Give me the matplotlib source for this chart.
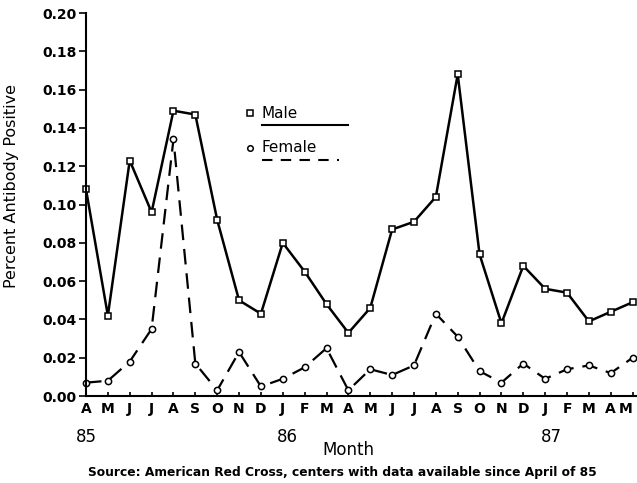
import numpy as np
import matplotlib.pyplot as plt

# miesiace od kwietnia 85 do maja 87
months = ["A", "M", "J", "J", "A", "S", "O", "N", "D", "J", "F", "M", "A",
          "M", "J", "J", "A", "S", "O", "N", "D", "J", "F", "M", "A", "M"]
years = ["85", "86", "87"]
year_pos = [0, 9.2, 21.3]

male = [0.108, 0.042, 0.123, 0.096, 0.149, 0.147, 0.092, 0.050, 0.043,
        0.080, 0.065, 0.048, 0.033, 0.046, 0.087, 0.091, 0.104, 0.168,
        0.074, 0.038, 0.068, 0.056, 0.054, 0.039, 0.044, 0.049]
female = [0.007, 0.008, 0.018, 0.035, 0.134, 0.017, 0.003, 0.023, 0.005,
          0.009, 0.015, 0.025, 0.003, 0.014, 0.011, 0.016, 0.043, 0.031,
          0.013, 0.007, 0.017, 0.009, 0.014, 0.016, 0.012, 0.020]

x = np.arange(len(months))

fig = plt.figure(figsize=(6.37, 4.83), dpi=100)
ax = fig.add_axes([0.135, 0.180, 0.865, 0.793])

ax.plot(x, male, "k-", lw=1.8, marker="s", ms=4, mfc="white", mew=1.1,
        clip_on=False)
ax.plot(x, female, "k", ls=(0, (7, 4)), lw=1.6, marker="o", ms=4.5,
        mfc="white", mew=1.1, clip_on=False)

ax.set_xlim(0, 25.2)
ax.set_ylim(0, 0.20)
yt = np.arange(0, 0.201, 0.02)
ax.set_yticks(yt)
ax.set_yticklabels([f"{v:.2f}" for v in yt], fontsize=10, fontweight="bold")
ax.set_xticks(x)
ax.set_xticklabels(months, fontsize=10, fontweight="bold")
# ostatnia etykieta wychodzi poza obrazek - dosuwamy do prawej
ax.get_xticklabels()[-1].set_horizontalalignment("right")
ax.get_xticklabels()[-1].set_x(x[-1] + 0.25)
ax.tick_params(axis="y", direction="out", length=5, width=1.2, pad=2)
ax.tick_params(axis="x", direction="in", length=3, width=1.2, pad=4)
for s in ["top", "right"]:
    ax.spines[s].set_visible(False)
for s in ["left", "bottom"]:
    ax.spines[s].set_linewidth(1.5)

ax.set_ylabel("Percent Antibody Positive", fontsize=11.5)
ax.yaxis.set_label_coords(-0.122, 0.548)

# lata pod miesiacami
for p, yr in zip(year_pos, years):
    ax.text(p, -0.0214, yr, ha="center", va="center", fontsize=12)
ax.text(12, -0.028, "Month", ha="center", va="center", fontsize=12)
fig.text(0.538, 0.021, "Source: American Red Cross, centers with data available since April of 85",
         ha="center", va="center", fontsize=8.8, fontweight="bold")

# legenda w stylu oryginalu
ax.plot([0.298], [0.739], "ks", ms=4, mfc="white", mew=1.1, transform=ax.transAxes)
ax.text(0.319, 0.739, "Male", fontsize=11, va="center", transform=ax.transAxes)
ax.plot([0.319, 0.475], [0.708, 0.708], "k-", lw=1.5, transform=ax.transAxes)
ax.plot([0.298], [0.648], "ko", ms=4, mfc="white", mew=1.1, transform=ax.transAxes)
ax.text(0.319, 0.648, "Female", fontsize=11, va="center", transform=ax.transAxes)
ax.plot([0.319, 0.46], [0.616, 0.616], "k", ls=(0, (5, 4)), lw=1.5,
        transform=ax.transAxes)

fig.savefig("out.png", dpi=100)
